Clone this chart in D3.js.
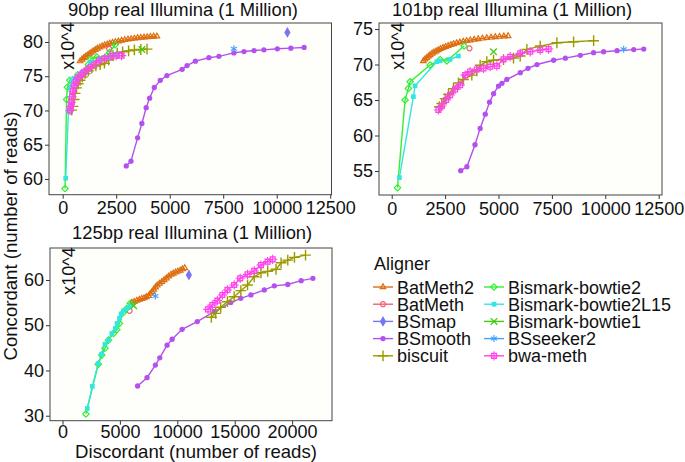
<!DOCTYPE html>
<html>
<head>
<meta charset="utf-8">
<script src="https://cdn.jsdelivr.net/npm/d3@7/dist/d3.min.js"></script>
<style>
body{margin:0;background:#fff}
text{font-family:"Liberation Sans",Arial,sans-serif;fill:#111}
</style>
</head>
<body>
<svg id="chart" width="685" height="462"></svg>
<script>
// aligners in legend order
var aligners=["BatMeth2","BatMeth","BSmap","BSmooth","biscuit","Bismark-bowtie2","Bismark-bowtie2L15","Bismark-bowtie1","BSseeker2","bwa-meth"];
var colors=["#DD6E10","#F25F7A","#7A76F0","#B450F0","#9A9A00","#33EE33","#33E6E0","#44CC11","#44A4FF","#FF44EE"];
var shapes=["tri","circleOpen","diamond","circle","plus","diamondOpen","square","times","asterisk","squarePlus"];

// tick labels
var xTicksA=[0,2500,5000,7500,10000,12500];
var xTicksB=[0,5000,10000,15000,20000];
var yTicks90=[60,65,70,75,80];
var yTicks101=[55,60,65,70,75];
var yTicks125=[30,40,50,60];

// 90bp : [discordant, concordant x10^4]
var batmeth2_90=[[812,77.2],[900,77.45],[980,77.65],[1060,77.85],[1150,78.05],[1240,78.25],[1330,78.45],[1420,78.65],[1520,78.85],[1620,79.05],[1730,79.22],[1840,79.38],[1960,79.52],[2080,79.65],[2200,79.78],[2330,79.9],[2460,80.0],[2600,80.1],[2750,80.2],[2900,80.3],[3050,80.38],[3200,80.45],[3350,80.52],[3500,80.58],[3650,80.63],[3800,80.68],[3950,80.72],[4100,80.76],[4250,80.8],[4400,80.83]];
var batmeth_90=[[2170,79.0]];
var bsmap_90=[[10500,81.4]];
var bsmooth_90=[[2970,61.9],[3190,62.6],[3500,66.0],[3700,68.1],[3900,70.4],[4060,71.8],[4280,73.35],[4560,74.4],[4870,75.1],[5580,76.0],[5810,76.55],[6200,77.2],[6830,77.7],[7300,77.9],[8000,78.4],[8470,78.6],[8940,78.75],[9400,78.85],[10030,79.0],[10660,79.1],[11280,79.2]];
var biscuit_90=[[422,70.05],[480,70.6],[530,71.6],[580,72.5],[640,73.3],[720,73.9],[810,74.4],[920,74.9],[1050,75.4],[1200,75.8],[1360,76.2],[1550,76.5],[1750,76.7],[1950,76.9],[2150,77.4],[2350,78.0],[2550,78.35],[2800,78.55],[3080,78.7],[3350,78.85],[3650,78.9],[3940,78.95]];
var bowtie2_90=[[110,58.6],[180,71.6],[220,73.4],[330,74.4],[700,75.2],[1200,76.7],[1300,77.5],[1600,77.8],[2050,77.9],[2200,78.5],[2450,79.6]];
var bowtie2L15_90=[[140,60.1],[270,69.9],[350,73.4],[420,74.4],[520,74.7],[900,75.6],[1300,77.0],[1750,77.5],[2150,77.7],[2500,78.2]];
var bowtie1_90=[[3700,78.9]];
var bsseeker2_90=[[8000,79.0]];
var bwameth_90=[[340,70.0],[380,70.6],[410,71.2],[440,72.0],[480,72.8],[540,73.6],[620,74.2],[720,74.8],[850,75.2],[1000,75.6],[1200,76.1],[1450,76.7],[1700,77.3],[1950,77.6],[2250,77.9],[2500,78.0],[2750,78.0]];

// 101bp
var batmeth2_101=[[1480,70.5],[1560,70.75],[1640,70.95],[1720,71.15],[1800,71.35],[1890,71.55],[1980,71.72],[2080,71.88],[2180,72.03],[2290,72.2],[2400,72.35],[2520,72.5],[2640,72.64],[2770,72.77],[2900,72.9],[3040,73.02],[3190,73.13],[3350,73.23],[3510,73.33],[3680,73.43],[3860,73.52],[4050,73.6],[4250,73.68],[4450,73.75],[4650,73.82],[4850,73.88],[5050,73.93],[5250,73.98],[5450,74.02]];
var batmeth_101=[[3640,72.28]];
var bsmap_101=[];
var bsmooth_101=[[3230,55.05],[3520,55.6],[3900,58.7],[4140,61.0],[4380,63.0],[4580,64.7],[4770,65.9],[5000,66.97],[5160,67.35],[5390,67.9],[6020,68.85],[6380,69.46],[6800,70.0],[7580,70.6],[8130,70.9],[8830,71.3],[9450,71.67],[9920,71.8],[10550,71.95],[11330,72.1],[11800,72.18]];
var biscuit_101=[[2234,64.06],[2344,64.5],[2500,65.2],[2656,65.8],[2891,66.6],[3125,67.4],[3359,67.9],[3750,68.5],[3984,69.1],[4141,69.9],[4453,70.4],[4766,70.6],[5234,70.7],[5703,70.9],[6016,71.2],[6328,72.14],[6953,72.6],[7734,73.07],[8516,73.2],[9453,73.36]];
var bowtie2_101=[[270,52.65],[625,65.0],[780,66.64],[860,67.58],[1800,69.93],[2270,70.7],[2580,70.5],[3390,72.6]];
var bowtie2L15_101=[[360,54.06],[1016,65.47],[1094,67.0],[2110,70.4],[2266,70.54],[2734,70.73],[3125,71.2]];
var bowtie1_101=[[4766,71.8]];
var bsseeker2_101=[[10860,72.14]];
var bwameth_101=[[2188,63.6],[2344,64.15],[2547,65.0],[2734,65.7],[2969,66.5],[3203,67.1],[3438,68.5],[3672,69.0],[3984,69.3],[4297,69.46],[4609,69.7],[4922,69.8],[5234,70.73],[5547,71.1],[6016,71.57],[6484,71.8],[6953,72.04],[7344,72.18]];

// 125bp
var batmeth2_125=[[6040,55.0],[6250,55.2],[6480,55.45],[6700,55.65],[6900,55.85],[7100,56.0],[7300,56.25],[7500,56.5],[7650,57.0],[7800,57.4],[7950,57.9],[8100,58.4],[8250,58.8],[8450,59.2],[8650,59.6],[8850,60.0],[9050,60.4],[9250,60.8],[9450,61.2],[9650,61.45],[9850,61.7],[10050,61.9],[10250,62.1],[10450,62.4],[10650,62.65]];
var batmeth_125=[[5840,53.2]];
var bsmap_125=[[11010,61.1]];
var bsmooth_125=[[6540,36.57],[7360,38.4],[8090,41.2],[8470,42.8],[9110,45.6],[9550,46.9],[10420,49.1],[11740,50.8],[13200,53.0],[14660,55.0],[15530,55.95],[16410,56.7],[17580,57.8],[18450,58.7],[19620,59.0],[20790,59.85],[21810,60.37]];
var biscuit_125=[[12965,51.75],[13344,52.63],[13782,53.96],[14366,55.2],[14950,56.3],[15534,57.64],[16118,58.9],[16702,60.7],[17286,61.6],[17870,61.9],[18600,62.36],[19038,63.8],[19622,64.4],[20206,65.0],[21170,65.5]];
var bowtie2_125=[[2040,30.4],[3120,41.4],[3420,43.4],[3700,44.9],[4000,46.7],[4440,48.2],[4730,49.0],[4960,50.4],[5310,52.8],[5600,53.7],[5900,54.85]];
var bowtie2L15_125=[[2160,31.6],[2600,36.5],[3100,41.5],[3400,43.6],[3700,45.8],[4000,46.7],[4300,48.2],[4600,49.3],[4750,50.4],[4960,51.5],[5100,52.5],[5310,53.2],[5600,53.7],[5900,54.4]];
var bowtie1_125=[[6200,54.3]];
var bsseeker2_125=[[8090,56.46]];
var bwameth_125=[[12673,53.5],[13052,54.47],[13490,55.43],[13928,56.68],[14366,57.8],[14950,58.9],[15476,60.37],[16118,61.25],[16702,62.0],[17286,63.3],[17870,64.05],[18308,64.57]];

var panels=[
  {title:"90bp real Illumina (1 Million)",titleX:68,titleY:16,box:[49,23,331.5,194.7],xd:[-640,12560],yd:[57.7,82.77],xt:xTicksA,yt:yTicks90,pad:3,
   series:[batmeth2_90,batmeth_90,bsmap_90,bsmooth_90,biscuit_90,bowtie2_90,bowtie2L15_90,bowtie1_90,bsseeker2_90,bwameth_90]},
  {title:"101bp real Illumina (1 Million)",titleX:392,titleY:16,box:[379,23,662,195],xd:[-595,12654],yd:[51.62,75.85],xt:xTicksA,yt:yTicks101,pad:3,
   series:[batmeth2_101,batmeth_101,bsmap_101,bsmooth_101,biscuit_101,bowtie2_101,bowtie2L15_101,bowtie1_101,bsseeker2_101,bwameth_101]},
  {title:"125bp real Illumina (1 Million)",titleX:72,titleY:239,box:[50,248,332,420.7],xd:[-1089,23475],yd:[28.9,67.07],xt:xTicksB,yt:yTicks125,pad:1,
   series:[batmeth2_125,batmeth_125,bsmap_125,bsmooth_125,biscuit_125,bowtie2_125,bowtie2L15_125,bowtie1_125,bsseeker2_125,bwameth_125]}
];

var svg=d3.select("#chart");

//рисуем маркер
function marker(g,shape,color,x,y){
  var s=g.append("g").attr("transform","translate("+x+","+y+")");
  var sym=function(t,size){return d3.symbol().type(t).size(size)();};
  if(shape=="tri") s.append("path").attr("d",sym(d3.symbolTriangle2,22)).attr("fill","none").attr("stroke",color).attr("stroke-width",1.2);
  else if(shape=="circleOpen") s.append("path").attr("d",sym(d3.symbolCircle,20)).attr("fill","none").attr("stroke",color).attr("stroke-width",1.2);
  else if(shape=="diamond") s.append("path").attr("d",sym(d3.symbolDiamond,34)).attr("fill",color);
  else if(shape=="circle") s.append("path").attr("d",sym(d3.symbolCircle,22)).attr("fill",color);
  else if(shape=="plus") s.append("path").attr("d",sym(d3.symbolPlus,40)).attr("fill","none").attr("stroke",color).attr("stroke-width",1.4);
  else if(shape=="diamondOpen") s.append("path").attr("d",sym(d3.symbolDiamond2,26)).attr("fill","none").attr("stroke",color).attr("stroke-width",1.2);
  else if(shape=="square") s.append("path").attr("d",sym(d3.symbolSquare,22)).attr("fill",color);
  else if(shape=="times") s.append("path").attr("d",sym(d3.symbolTimes,30)).attr("fill","none").attr("stroke",color).attr("stroke-width",1.3);
  else if(shape=="asterisk") s.append("path").attr("d",sym(d3.symbolAsterisk,34)).attr("fill","none").attr("stroke",color).attr("stroke-width",1.2);
  else if(shape=="squarePlus"){
    s.append("path").attr("d",sym(d3.symbolSquare2,30)).attr("fill","none").attr("stroke",color).attr("stroke-width",1.3);
    s.append("path").attr("d",sym(d3.symbolPlus,30)).attr("fill","none").attr("stroke",color).attr("stroke-width",1.1);
  }
}

panels.forEach(function(p){
  var b=p.box;
  var x=d3.scaleLinear().domain(p.xd).range([b[0],b[2]]);
  var y=d3.scaleLinear().domain(p.yd).range([b[3],b[1]]);

  svg.append("rect").attr("x",b[0]).attr("y",b[1]).attr("width",b[2]-b[0]).attr("height",b[3]-b[1])
    .attr("fill","#fefefb");

  var xa=svg.append("g").attr("transform","translate(0,"+b[3]+")")
    .call(d3.axisBottom(x).tickValues(p.xt).tickSize(4).tickPadding(p.pad).tickFormat(d3.format("d")));
  var ya=svg.append("g").attr("transform","translate("+b[0]+",0)")
    .call(d3.axisLeft(y).tickValues(p.yt).tickSize(4).tickPadding(2));
  [xa,ya].forEach(function(a){
    a.select(".domain").remove();
    a.selectAll("line").attr("stroke","#333");
    a.selectAll("text").attr("font-size",18).attr("fill","#111").style("font-family","Liberation Sans, Arial, sans-serif");
  });

  var g=svg.append("g");
  var line=d3.line().x(function(d){return x(d[0]);}).y(function(d){return y(d[1]);});
  p.series.forEach(function(s,i){
    if(s.length>1) g.append("path").attr("d",line(s)).attr("fill","none").attr("stroke",colors[i]).attr("stroke-width",1.4);
  });
  p.series.forEach(function(s,i){
    s.forEach(function(d){ marker(g,shapes[i],colors[i],x(d[0]),y(d[1])); });
  });

  svg.append("rect").attr("x",b[0]).attr("y",b[1]).attr("width",b[2]-b[0]).attr("height",b[3]-b[1])
    .attr("fill","none").attr("stroke","#444").attr("stroke-width",1);

  svg.append("text").attr("x",p.titleX).attr("y",p.titleY).attr("font-size",18.4).text(p.title);
  svg.append("text").attr("transform","translate("+(b[0]+25)+","+(b[1]+23)+") rotate(-90)")
    .attr("text-anchor","middle").attr("font-size",18).text("x10^4");
});

// axis titles
svg.append("text").attr("transform","translate(17,236) rotate(-90)").attr("text-anchor","middle")
  .attr("font-size",18.6).text("Concordant (number of reads)");
svg.append("text").attr("x",196).attr("y",457.5).attr("text-anchor","middle")
  .attr("font-size",18.6).text("Discordant (number of reads)");

// legend
var leg=svg.append("g");
leg.append("text").attr("x",374).attr("y",270).attr("font-size",18).text("Aligner");
aligners.forEach(function(a,i){
  var col=Math.floor(i/5), row=i%5;
  var kx=col==0?373:484, ky=287+row*17.2;
  leg.append("line").attr("x1",kx).attr("x2",kx+20).attr("y1",ky).attr("y2",ky).attr("stroke",colors[i]).attr("stroke-width",1.4);
  marker(leg,shapes[i],colors[i],kx+10,ky);
  leg.append("text").attr("x",kx+24).attr("y",ky+6.5).attr("font-size",18).text(a);
});
</script>
</body>
</html>
